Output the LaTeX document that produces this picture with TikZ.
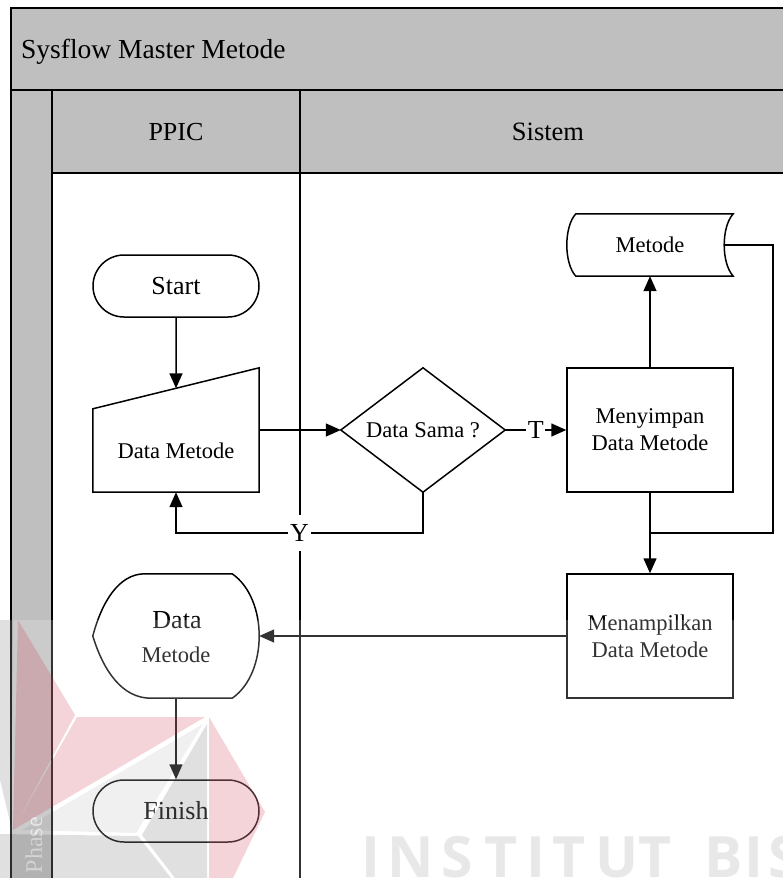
\documentclass[tikz,border=0pt]{standalone}
\usepackage{fontspec}
\setmainfont{Liberation Serif}
\newfontfamily\tnr{Liberation Serif}
\newfontfamily\wmsans{Open Sans}
\usetikzlibrary{arrows.meta,calc}

\definecolor{lanegray}{RGB}{191,191,191}
\definecolor{wmred}{RGB}{200,40,60}
\definecolor{wmtext}{RGB}{232,232,232}
\definecolor{phasetext}{RGB}{238,238,238}

\tikzset{
  ln/.style={line width=1.5pt, draw=black},
  arr/.style={ln, -{Triangle[length=15pt,width=13pt]}},
  txt/.style={font=\tnr\fontsize{22.5}{27}\selectfont},
  bigtxt/.style={font=\tnr\fontsize{26}{31}\selectfont},
  term/.style={ln, rounded corners=31pt, minimum width=166pt, minimum height=62pt, inner sep=0pt, bigtxt},
  proc/.style={ln, minimum width=166pt, minimum height=124pt, inner sep=0pt, align=center, txt},
  frame/.style={minimum width=166pt, minimum height=124pt, inner sep=0pt},
  lbl/.style={inner sep=0pt, anchor=base},
  cut/.style={fill=white, inner xsep=2pt, inner ysep=9pt, bigtxt},
  redfacet/.style={fill=wmred, fill opacity=0.2, draw=none},
  grayfacet/.style={fill=black, fill opacity=0.12, draw=none},
  wm/.style={inner sep=0pt, anchor=base, text=wmtext, font=\wmsans\bfseries\fontsize{57}{60}\selectfont},
}

\begin{document}
\begin{tikzpicture}[x=1pt,y=-1pt]
\useasboundingbox (0,0) rectangle (783,878);
\clip (0,0) rectangle (783,878);

% swimlane pool: title band, phase column, lane headers
\fill[lanegray] (11,8) rectangle (800,173);
\fill[lanegray] (11,90) rectangle (52,880);
\fill[white] (52,173) rectangle (800,880);
\draw[ln] (800,8) -- (11,8) -- (11,880);
\draw[ln] (11,90) -- (800,90);
\draw[ln] (52,90) -- (52,880);
\draw[ln] (300,90) -- (300,880);
\draw[ln] (52,173) -- (800,173);

\node[lbl, anchor=base west, font=\tnr\fontsize{27.5}{33}\selectfont] (title) at (21,58) {Sysflow Master Metode};
\node[lbl, bigtxt] (ppic) at (176,140) {PPIC};
\node[lbl, font=\tnr\fontsize{26.5}{32}\selectfont] (sistem) at (548,140) {Sistem};
\node[lbl, anchor=base east, rotate=90, text=phasetext, font=\tnr\fontsize{24}{29}\selectfont] (phase) at (42,817) {Phase};

% flow nodes
\node[term] (start) at (176,286) {Start};
\node[frame] (inp) at (176,430) {};
\node[lbl, txt] (inptext) at (176,458) {Data Metode};
\node[frame, minimum width=164pt, txt] (dec) at (423,430) {Data Sama ?};
\node[proc] (save) at (650,430) {Menyimpan\\Data Metode};
\node[frame, minimum height=62pt, txt] (store) at (650,245) {Metode};
\node[proc] (show) at (650,636) {Menampilkan\\Data Metode};
\node[frame] (disp) at (176,636) {};
\node[lbl, bigtxt] (disptop) at (177,628) {Data};
\node[lbl, txt] (dispbot) at (176,662) {Metode};
\node[term] (finish) at (176,811) {Finish};

% manual input outline
\coordinate (inpTL) at ($(inp.north west)+(0,41)$);
\coordinate (inpin) at ($(inpTL)!0.5!(inp.north east)$);
\draw[ln] (inp.south west) -- (inp.south east) -- (inp.north east) -- (inpTL) -- cycle;

% decision outline
\draw[ln] (dec.west) -- (dec.north) -- (dec.east) -- (dec.south) -- cycle;

% stored data outline
\draw[ln] ($(store.north west)+(9,0)$) -- (store.north east)
  .. controls ($(store.east)+(-12,-18)$) and ($(store.east)+(-12,18)$) .. (store.south east)
  -- ($(store.south west)+(9,0)$)
  .. controls ($(store.west)+(-3,18)$) and ($(store.west)+(-3,-18)$) .. cycle;

% display outline
\draw[ln] ($(disp.north west)+(52,0)$) -- ($(disp.north east)+(-27,0)$)
  .. controls ($(disp.north east)+(9,25)$) and ($(disp.south east)+(9,-25)$) .. ($(disp.south east)+(-27,0)$)
  -- ($(disp.south west)+(58,0)$)
  .. controls ($(disp.south west)+(30,0)$) and ($(disp.west)+(11,36)$) .. (disp.west)
  .. controls ($(disp.west)+(9,-34)$) and ($(disp.north west)+(26,0)$) .. cycle;

% connectors
\draw[arr] (start.south) -- (inpin);
\draw[arr] (inp.east) -- (dec.west);
\draw[arr] (dec.east) -- node[cut, inner xsep=1.5pt, inner ysep=3pt] (tlabel) {T} (save.west);
\coordinate (ylevel) at (300,533);
\draw[arr] (dec.south) -- (dec.south |- ylevel) -- node[cut] (ylabel) {Y} (inp.south |- ylevel) -- (inp.south);
\draw[arr] (save.north) -- (store.south);
\coordinate (storeout) at ($(store.east)+(-9,0)$);
\coordinate (loopcorner) at (773,533);
\draw[ln] (storeout) -| (loopcorner) -- (save.south |- loopcorner);
\draw[arr] (save.south) -- (show.north);
\draw[arr] (show.west) -- (disp.east);
\draw[arr] (disp.south) -- (finish.north);

% watermark layer
\fill[white, opacity=0.2] (0,620) rectangle (783,878);
\fill[redfacet] (77,717) -- (205,717) -- (13,830) -- cycle;
\fill[redfacet] (18,620) -- (75,715) -- (13,830) -- cycle;
\fill[redfacet] (209,717) -- (265,812) -- (233,878) -- (209,878) -- cycle;
\fill[grayfacet, fill opacity=0.06] (203,724) -- (22,830) -- (136,833) -- cycle;
\fill[grayfacet] (207,724) -- (207,878) -- (175,878) -- (142,835) -- cycle;
\fill[grayfacet] (0,834) -- (138,836) -- (171,878) -- (0,878) -- cycle;
\fill[grayfacet] (0,620) -- (13,620) -- (11,826) -- (0,780) -- cycle;
\foreach \ch/\cx [count=\i] in {I/371,N/411,S/457.5,T/501,I/536,T/569,U/617.5,T/655,B/724,I/754,S/784}
  \node[wm] (wm\i) at (\cx,877) {\ch};
\end{tikzpicture}
\end{document}
